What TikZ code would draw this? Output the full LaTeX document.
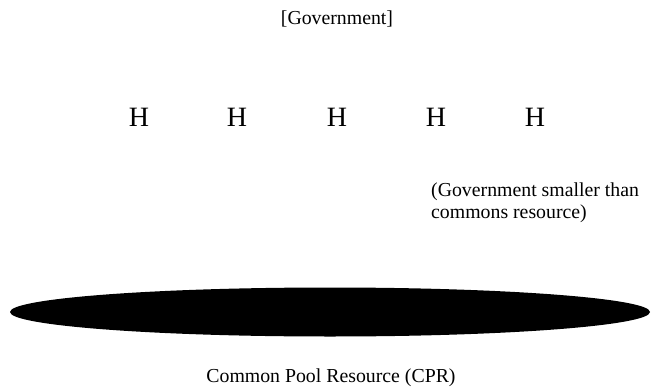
\documentclass[tikz,border=0pt]{standalone}
\usepackage{fontspec}
\setmainfont{Liberation Serif}
\begin{document}
\begin{tikzpicture}[x=1pt,y=-1pt,
  label/.style={inner sep=0pt,font=\fontsize{19.8}{22.5}\selectfont},
  household/.style={inner sep=0pt,font=\fontsize{28}{30}\selectfont},
  pool/.style={fill=black,draw=none}]
  \useasboundingbox (0,0) rectangle (651,391);
  % government label
  \node[label] (gov) at (337,19) {[Government]};
  % households
  \node[household] (h1) at (139,117) {H};
  \node[household] (h2) at (237,117) {H};
  \node[household] (h3) at (337,117) {H};
  \node[household] (h4) at (436,117) {H};
  \node[household] (h5) at (535,117) {H};
  % note
  \node[label,align=left,anchor=north west] (note) at (431,182.5)
    {(Government smaller than\\commons resource)};
  % the common pool resource
  \fill[pool] (330,312) ellipse [x radius=320, y radius=24.5];
  \node[label] (cpr) at (331,378) {Common Pool Resource (CPR)};
\end{tikzpicture}
\end{document}
